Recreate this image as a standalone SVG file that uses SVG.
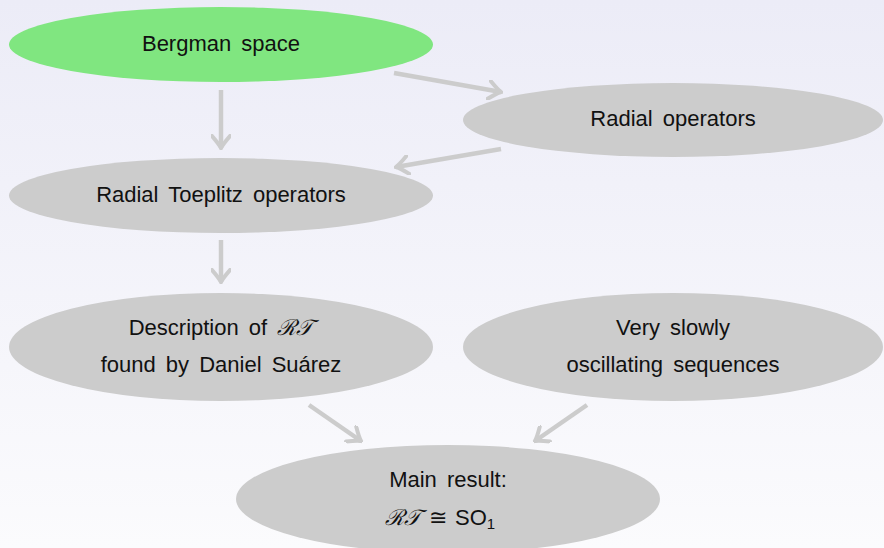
<svg xmlns="http://www.w3.org/2000/svg" width="884" height="548" viewBox="0 0 884 548">
  <defs>
    <linearGradient id="bg" x1="0" y1="0" x2="0" y2="1">
      <stop offset="0" stop-color="#ececf7"/>
      <stop offset="1" stop-color="#fbfbfd"/>
    </linearGradient>
    <marker id="head" viewBox="-14 -10 16 20" markerWidth="16" markerHeight="20" refX="0" refY="0" markerUnits="userSpaceOnUse" orient="auto">
      <path d="M -12,-9 Q -4,-2 0,0 Q -4,2 -12,9" fill="none" stroke="#cccccc" stroke-width="4" stroke-linecap="round"/>
    </marker>
  </defs>
  <style>
    .node { fill: #cccccc; }
    .start { fill: #80e680; }
    .label { font-family: "Liberation Sans", Arial, sans-serif; font-size: 22px; fill: #111111; text-anchor: middle; word-spacing: 4px; }
    .formula { word-spacing: 2px; }
    .cal { font-family: "DejaVu Serif", "Liberation Serif", serif; font-style: italic; }
    .edge { stroke: #cccccc; stroke-width: 4.5; fill: none; marker-end: url(#head); }
  </style>

  <rect x="0" y="0" width="884" height="548" fill="url(#bg)"/>

  <g id="connectors">
    <line class="edge" x1="221" y1="90" x2="221" y2="148"/>
    <line class="edge" x1="394" y1="73" x2="501" y2="92"/>
    <line class="edge" x1="501" y1="149" x2="396" y2="167"/>
    <line class="edge" x1="221" y1="240" x2="221" y2="282"/>
    <line class="edge" x1="309" y1="405" x2="361" y2="441"/>
    <line class="edge" x1="587" y1="405" x2="535" y2="441"/>
  </g>

  <g id="bergman">
    <ellipse class="start" cx="221" cy="44.5" rx="212" ry="37.5"/>
    <text class="label" x="221" y="51">Bergman space</text>
  </g>

  <g id="radial">
    <ellipse class="node" cx="673" cy="120" rx="210" ry="37"/>
    <text class="label" x="673" y="126">Radial operators</text>
  </g>

  <g id="toeplitz">
    <ellipse class="node" cx="221" cy="195.5" rx="212" ry="37.5"/>
    <text class="label" x="221" y="202">Radial Toeplitz operators</text>
  </g>

  <g id="description">
    <ellipse class="node" cx="221" cy="347" rx="212" ry="54"/>
    <text class="label" x="221" y="335">Description of <tspan class="cal">ℛ𝒯</tspan></text>
    <text class="label" x="221" y="372">found by Daniel Suárez</text>
  </g>

  <g id="sequences">
    <ellipse class="node" cx="673" cy="347" rx="210" ry="54"/>
    <text class="label" x="673" y="335">Very slowly</text>
    <text class="label" x="673" y="372">oscillating sequences</text>
  </g>

  <g id="main">
    <ellipse class="node" cx="448" cy="499" rx="212" ry="54"/>
    <text class="label" x="448" y="487">Main result:</text>
    <text class="label formula" x="440" y="525"><tspan class="cal">ℛ𝒯</tspan> ≅ SO<tspan font-size="15" dy="4">1</tspan></text>
  </g>
</svg>
